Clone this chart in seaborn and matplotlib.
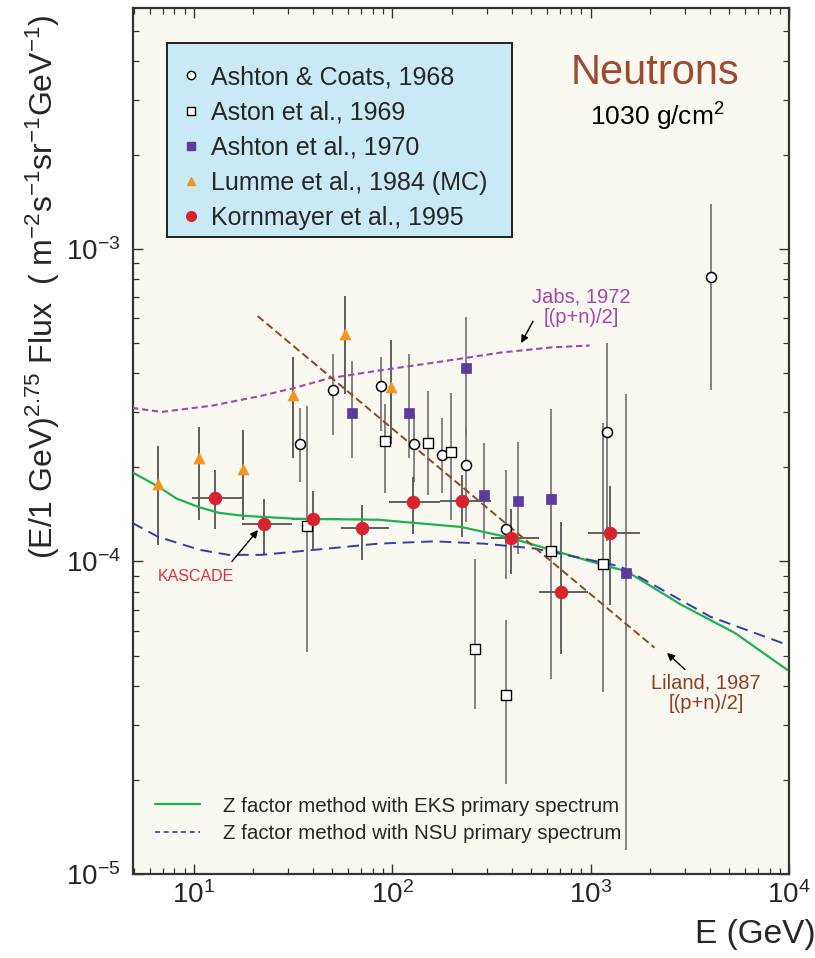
import matplotlib
matplotlib.use("Agg")
import matplotlib.pyplot as plt
from matplotlib.lines import Line2D
from matplotlib.patches import Rectangle
from matplotlib.ticker import LogLocator, NullFormatter
import numpy as np
import seaborn as sns

# --- data ----------------------------------------------------------------
# Ashton & Coats, 1968 (open circles)
ac_E = [34.5, 50.6, 88, 129, 178, 236, 374, 1217, 4055]
ac_F = [2.38e-4, 3.55e-4, 3.63e-4, 2.38e-4, 2.19e-4, 2.04e-4, 1.27e-4, 2.6e-4, 8.13e-4]
ac_hi = [3.09e-4, 4.61e-4, 4.51e-4, 2.96e-4, 2.87e-4, 2.67e-4, 1.96e-4, 5.0e-4, 1.39e-3]
ac_lo = [1.80e-4, 2.53e-4, 2.61e-4, 1.80e-4, 1.65e-4, 1.34e-4, 8.8e-5, 1.16e-4, 3.53e-4]

# Aston et al., 1969 (open squares)
as_E = [37.4, 92, 152, 198, 261, 374, 630, 1150]
as_F = [1.30e-4, 2.43e-4, 2.40e-4, 2.24e-4, 5.25e-5, 3.73e-5, 1.08e-4, 9.8e-5]
as_hi = [3.14e-4, 3.19e-4, 3.51e-4, 3.45e-4, 1.02e-4, 6.52e-5, 1.52e-4, 2.77e-4]
as_lo = [5.15e-5, 1.65e-4, 1.63e-4, 1.36e-4, 3.38e-5, 1.94e-5, 4.22e-5, 3.83e-5]

# Ashton et al., 1970 (purple squares)
a70_E = [63, 122, 236, 290, 430, 630, 1517]
a70_F = [2.98e-4, 2.98e-4, 4.15e-4, 1.63e-4, 1.56e-4, 1.58e-4, 9.16e-5]
a70_hi = [4.38e-4, 4.61e-4, 6.05e-4, 2.39e-4, 2.42e-4, 3.07e-4, 3.43e-4]
a70_lo = [2.14e-4, 2.14e-4, 2.53e-4, 1.18e-4, 1.06e-4, 1.13e-4, 1.19e-5]

# Lumme et al., 1984 (MC) (orange triangles)
lu_E = [6.6, 10.7, 17.8, 31.8, 58, 99]
lu_F = [1.77e-4, 2.14e-4, 1.97e-4, 3.40e-4, 5.34e-4, 3.61e-4]
lu_hi = [2.34e-4, 2.69e-4, 2.63e-4, 4.51e-4, 7.07e-4, 5.11e-4]
lu_lo = [1.13e-4, 1.36e-4, 1.36e-4, 2.15e-4, 3.43e-4, 2.37e-4]

# Kornmayer et al., 1995 (red circles, with energy bins)
ko_E = [12.8, 22.5, 40, 70.6, 128, 225, 396, 706, 1259]
ko_F = [1.60e-4, 1.32e-4, 1.37e-4, 1.28e-4, 1.55e-4, 1.56e-4, 1.19e-4, 8.01e-5, 1.23e-4]
ko_hi = [1.96e-4, 1.59e-4, 1.68e-4, 1.52e-4, 1.87e-4, 1.89e-4, 1.47e-4, 1.34e-4, 1.74e-4]
ko_lo = [1.27e-4, 1.06e-4, 1.09e-4, 1.01e-4, 1.22e-4, 1.20e-4, 9.1e-5, 5.07e-5, 7.28e-5]
ko_Elo = [9.8, 17.6, 31.3, 55, 97, 174, 315, 550, 970]
ko_Ehi = [17.6, 31.3, 55, 97, 174, 315, 550, 970, 1770]

# Z factor method, EKS primary spectrum (green)
eks_E = [4.9, 6.6, 8.2, 10.7, 13.5, 17.8, 32.6, 85, 222, 396, 630, 1120, 1520,
         2830, 5350, 9800]
eks_F = [1.93e-4, 1.74e-4, 1.59e-4, 1.49e-4, 1.43e-4, 1.40e-4, 1.37e-4, 1.36e-4,
         1.29e-4, 1.19e-4, 1.09e-4, 9.8e-5, 9.3e-5, 7.3e-5, 5.9e-5, 4.5e-5]

# Z factor method, NSU primary spectrum (blue dashed)
nsu_E = [4.9, 6.6, 10.7, 15.0, 22.0, 47.6, 85, 164, 293, 523, 933, 1416, 4010, 9800]
nsu_F = [1.33e-4, 1.20e-4, 1.09e-4, 1.05e-4, 1.05e-4, 1.10e-4, 1.14e-4, 1.16e-4,
         1.14e-4, 1.10e-4, 1.02e-4, 9.64e-5, 6.66e-5, 5.41e-5]

# Jabs, 1972 (purple dotted)
jabs_E = [4.9, 6.9, 12.3, 22.0, 32.6, 47.6, 85, 164, 353, 630, 990]
jabs_F = [3.10e-4, 3.01e-4, 3.15e-4, 3.39e-4, 3.60e-4, 3.85e-4, 4.08e-4, 4.33e-4,
          4.66e-4, 4.84e-4, 4.91e-4]

# Liland, 1987 (brown dashed)
lil_E = [21, 2100]
lil_F = [6.1e-4, 5.3e-5]

legend_labels = ["Ashton & Coats, 1968", "Aston et al., 1969", "Ashton et al., 1970",
                 "Lumme et al., 1984 (MC)", "Kornmayer et al., 1995"]
curve_labels = ["Z factor method with EKS primary spectrum",
                "Z factor method with NSU primary spectrum"]

# --- style -----------------------------------------------------------------
sns.set_theme(style="ticks")
plt.rcParams["font.family"] = ["Liberation Sans", "DejaVu Sans"]
plt.rcParams["mathtext.fontset"] = "custom"
plt.rcParams["mathtext.rm"] = "Liberation Sans"
plt.rcParams["mathtext.it"] = "Liberation Sans"
plt.rcParams["mathtext.default"] = "regular"

fig = plt.figure(figsize=(8.15, 9.58), dpi=100)
ax = fig.add_axes([0.1632, 0.0877, 0.8049, 0.9039])
ax.set_facecolor("#f9f8f1")
ax.set_xscale("log")
ax.set_yscale("log")

ERR = "#7a7a7a"


def errs(F, lo, hi):
    F = np.array(F)
    return [F - np.array(lo), np.array(hi) - F]


# model curves
sns.lineplot(x=eks_E, y=eks_F, ax=ax, color="#1db34f", lw=1.6, sort=False,
             estimator=None, zorder=3)
sns.lineplot(x=nsu_E, y=nsu_F, ax=ax, color="#3a3aae", lw=1.4, sort=False,
             estimator=None, zorder=3, linestyle=(0, (6, 3.5)))
sns.lineplot(x=jabs_E, y=jabs_F, ax=ax, color="#a546a9", lw=1.5, sort=False,
             estimator=None, zorder=3, linestyle=(0, (3, 1.8)))
sns.lineplot(x=lil_E, y=lil_F, ax=ax, color="#8e4824", lw=1.4, sort=False,
             estimator=None, zorder=3, linestyle=(0, (4, 2)))

# error bars
ax.errorbar(ac_E, ac_F, yerr=errs(ac_F, ac_lo, ac_hi), fmt="none", ecolor=ERR, elinewidth=1.3, zorder=2)
ax.errorbar(as_E, as_F, yerr=errs(as_F, as_lo, as_hi), fmt="none", ecolor=ERR, elinewidth=1.3, zorder=2)
ax.errorbar(a70_E, a70_F, yerr=errs(a70_F, a70_lo, a70_hi), fmt="none", ecolor=ERR, elinewidth=1.3, zorder=2)
ax.errorbar(lu_E, lu_F, yerr=errs(lu_F, lu_lo, lu_hi), fmt="none", ecolor="#444444", elinewidth=1.2, zorder=2)
ax.errorbar(ko_E, ko_F, yerr=errs(ko_F, ko_lo, ko_hi),
            xerr=[np.array(ko_E) - np.array(ko_Elo), np.array(ko_Ehi) - np.array(ko_E)],
            fmt="none", ecolor="#555555", elinewidth=1.3, zorder=2)

# markers
sns.scatterplot(x=ac_E, y=ac_F, ax=ax, marker="o", s=52, color="white",
                edgecolor="black", linewidth=1.1, zorder=5)
sns.scatterplot(x=as_E, y=as_F, ax=ax, marker="s", s=52, color="white",
                edgecolor="black", linewidth=1.0, zorder=5)
sns.scatterplot(x=a70_E, y=a70_F, ax=ax, marker="s", s=60, color="#5b3c9c",
                edgecolor="#5b3c9c", linewidth=0.5, zorder=5)
sns.scatterplot(x=lu_E, y=lu_F, ax=ax, marker="^", s=62, color="#f7941e",
                edgecolor="#f7941e", linewidth=0.5, zorder=5)
sns.scatterplot(x=ko_E, y=ko_F, ax=ax, marker="o", s=85, color="#d8232e",
                edgecolor="#d8232e", linewidth=0.5, zorder=6)

ax.set_xlim(4.95, 1.0e4)
ax.set_ylim(1.0e-5, 5.9e-3)

# ticks
ax.xaxis.set_major_locator(LogLocator(base=10, numticks=10))
ax.xaxis.set_minor_locator(LogLocator(base=10, subs=np.arange(2, 10), numticks=20))
ax.yaxis.set_minor_locator(LogLocator(base=10, subs=np.arange(2, 10), numticks=20))
ax.xaxis.set_minor_formatter(NullFormatter())
ax.yaxis.set_minor_formatter(NullFormatter())
ax.tick_params(which="both", direction="in", top=True, right=True, color="#333333")
ax.tick_params(which="major", length=7.5, width=1.0)
ax.tick_params(which="minor", length=4, width=0.9)
ax.tick_params(axis="x", which="major", labelsize=20, pad=5)
ax.tick_params(axis="y", which="major", labelsize=20, pad=9)
for sp in ax.spines.values():
    sp.set_color("#333333")
    sp.set_linewidth(1.6)

ax.set_xlabel("E (GeV)", fontsize=24, ha="right")
ax.xaxis.set_label_coords(1.04, -0.052)
ax.set_ylabel(r"(E/1 GeV)$^{2.75}$ Flux  ( m$^{-2}$s$^{-1}$sr$^{-1}$GeV$^{-1}$)", fontsize=23)
ax.yaxis.set_label_coords(-0.108, 0.678)

# annotations
ax.text(0.796, 0.925, "Neutrons", transform=ax.transAxes, fontsize=30,
        color="#9c4a32", ha="center", va="center")
ax.text(0.799, 0.874, r"1030 g/cm$^{2}$", transform=ax.transAxes, fontsize=19,
        color="black", ha="center", va="center")
ax.text(895, 6.5e-4, "Jabs, 1972\n[(p+n)/2]", color="#a546a9", fontsize=14.5,
        ha="center", va="center", linespacing=1.1)
ax.text(3820, 3.8e-5, "Liland, 1987\n[(p+n)/2]", color="#8e3f22", fontsize=14.5,
        ha="center", va="center", linespacing=1.1)
ax.text(10.3, 8.95e-5, "KASCADE", color="#e0303a", fontsize=11.5,
        ha="center", va="center")
arrow = dict(arrowstyle="-|>", color="black", lw=1, shrinkA=0, shrinkB=0, mutation_scale=11)
ax.annotate("", xy=(447, 5.0e-4), xytext=(513, 5.87e-4), arrowprops=arrow)
ax.annotate("", xy=(2427, 5.1e-5), xytext=(2990, 4.51e-5), arrowprops=arrow)
ax.annotate("", xy=(21.1, 1.26e-4), xytext=(15.6, 1.0e-4), arrowprops=arrow)

# data legend with its own blue box
ax.add_patch(Rectangle((0.0518, 0.7356), 0.5262, 0.224, transform=ax.transAxes,
                       facecolor="#c9e9f5", edgecolor="#222222", lw=1.4, zorder=7))
data_handles = [
    Line2D([], [], ls="none", marker="o", ms=6, mfc="white", mec="black", mew=1),
    Line2D([], [], ls="none", marker="s", ms=6, mfc="white", mec="black", mew=1),
    Line2D([], [], ls="none", marker="s", ms=6, mfc="#5b3c9c", mec="#5b3c9c"),
    Line2D([], [], ls="none", marker="^", ms=6, mfc="#f7941e", mec="#f7941e"),
    Line2D([], [], ls="none", marker="o", ms=7, mfc="#d8232e", mec="#d8232e"),
]
leg1 = ax.legend(data_handles, legend_labels, loc="upper left",
                 bbox_to_anchor=(0.069, 0.934), frameon=False, fontsize=18,
                 handlelength=1.0, handletextpad=0.3, labelspacing=0.45,
                 borderpad=0, borderaxespad=0)
leg1.set_zorder(8)
ax.add_artist(leg1)

curve_handles = [
    Line2D([], [], color="#1db34f", lw=1.6),
    Line2D([], [], color="#3a3aae", lw=1.2, ls=(0, (3, 2.2))),
]
ax.legend(curve_handles, curve_labels, loc="lower left", bbox_to_anchor=(0.0335, 0.036),
          frameon=False, fontsize=14.8, handlelength=2.2, handletextpad=1.1,
          labelspacing=0.4, borderpad=0, borderaxespad=0)

fig.savefig("out.png", dpi=100)
